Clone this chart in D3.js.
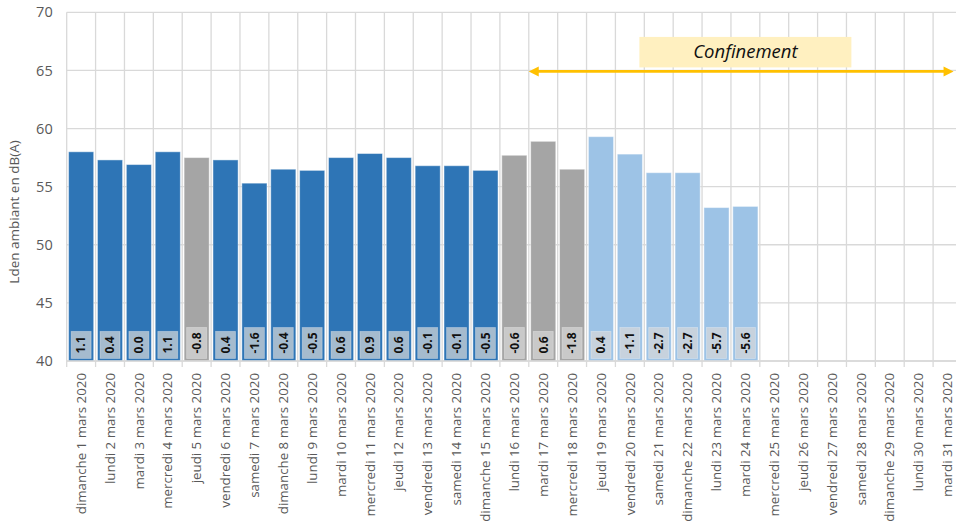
<!DOCTYPE html>
<html>
<head>
<meta charset="utf-8">
<script src="https://cdn.jsdelivr.net/npm/d3@7"></script>
<style>
  body { margin: 0; background: #fff; }
  svg { display: block; font-family: "Open Sans", sans-serif; }
</style>
</head>
<body>
<div id="chart"></div>
<script>
// categories (1 to 31 March 2020)
var days = ["dimanche 1 mars 2020", "lundi 2 mars 2020", "mardi 3 mars 2020", "mercredi 4 mars 2020",
    "jeudi 5 mars 2020", "vendredi 6 mars 2020", "samedi 7 mars 2020", "dimanche 8 mars 2020",
    "lundi 9 mars 2020", "mardi 10 mars 2020", "mercredi 11 mars 2020", "jeudi 12 mars 2020",
    "vendredi 13 mars 2020", "samedi 14 mars 2020", "dimanche 15 mars 2020", "lundi 16 mars 2020",
    "mardi 17 mars 2020", "mercredi 18 mars 2020", "jeudi 19 mars 2020", "vendredi 20 mars 2020",
    "samedi 21 mars 2020", "dimanche 22 mars 2020", "lundi 23 mars 2020", "mardi 24 mars 2020",
    "mercredi 25 mars 2020", "jeudi 26 mars 2020", "vendredi 27 mars 2020", "samedi 28 mars 2020",
    "dimanche 29 mars 2020", "lundi 30 mars 2020", "mardi 31 mars 2020"];

// Lden ambiant, dB(A), one per measured day
var lden = [58.0, 57.3, 56.9, 58.0, 57.5, 57.3, 55.3, 56.5, 56.4, 57.5, 57.85, 57.5,
    56.8, 56.8, 56.4, 57.7, 58.9, 56.5, 59.3, 57.8, 56.2, 56.2, 53.2, 53.3];

// deviation labels shown at the foot of each bar
var ecarts = ["1.1", "0.4", "0.0", "1.1", "-0.8", "0.4", "-1.6", "-0.4", "-0.5", "0.6", "0.9", "0.6",
    "-0.1", "-0.1", "-0.5", "-0.6", "0.6", "-1.8", "0.4", "-1.1", "-2.7", "-2.7", "-5.7", "-5.6"];

// bar group: a = normal, b = grey, c = confinement
var groupes = ["a", "a", "a", "a", "b", "a", "a", "a", "a", "a", "a", "a",
    "a", "a", "a", "b", "b", "b", "c", "c", "c", "c", "c", "c"];

var yTicks = [40, 45, 50, 55, 60, 65, 70];
var confinement = {label: "Confinement", debut: "mardi 17 mars 2020", fin: "mardi 31 mars 2020",
    centre: "mardi 24 mars 2020", niveau: 65};

var colors = {a: "#2E75B6", b: "#A5A5A5", c: "#9DC3E6"};

var W = 956, H = 531;
var margin = {top: 12.3, left: 66.7, bottom: 170};
var width = 31 * 28.88;
var height = 361 - margin.top;

var svg = d3.select("#chart").append("svg")
    .attr("width", W)
    .attr("height", H);

var g = svg.append("g")
    .attr("transform", "translate(" + margin.left + "," + margin.top + ")");

// scales
var x = d3.scaleBand().domain(days).range([0, width]).paddingInner(0.13).paddingOuter(0.065);
var y = d3.scaleLinear().domain([40, 70]).range([height, 0]);
var step = x.step();

// horizontal gridlines
g.append("g")
    .selectAll("line")
    .data(yTicks)
    .join("line")
    .attr("x1", 0)
    .attr("x2", width)
    .attr("y1", function(d) { return y(d); })
    .attr("y2", function(d) { return y(d); })
    .attr("stroke", "#D9D9D9")
    .attr("stroke-width", 1.3);

// vertical gridlines at category boundaries, continued as tick marks
g.append("g")
    .selectAll("line")
    .data(d3.range(days.length + 1))
    .join("line")
    .attr("x1", function(i) { return i * step; })
    .attr("x2", function(i) { return i * step; })
    .attr("y1", 0)
    .attr("y2", height + 6)
    .attr("stroke", "#D9D9D9")
    .attr("stroke-width", 1.3);

// y axis labels
var yAxis = d3.axisLeft(y).tickValues(yTicks).tickSize(0).tickPadding(14);
var ya = g.append("g").call(yAxis);
ya.select(".domain").remove();
ya.selectAll("text")
    .attr("fill", "#595959")
    .style("font-size", "14.5px")
    .style("font-family", "Open Sans");

// y axis title
svg.append("text")
    .attr("transform", "translate(19,212) rotate(-90)")
    .attr("text-anchor", "middle")
    .attr("fill", "#595959")
    .style("font-size", "13.5px")
    .text("Lden ambiant en dB(A)");

// x axis labels
var xAxis = d3.axisBottom(x).tickSize(0).tickPadding(0);
var xa = g.append("g")
    .attr("transform", "translate(0," + height + ")")
    .call(xAxis);
xa.select(".domain").remove();
xa.selectAll("text")
    .attr("transform", "rotate(-90)")
    .attr("text-anchor", "end")
    .attr("x", -12)
    .attr("y", 0)
    .attr("dy", "0.35em")
    .attr("fill", "#595959")
    .style("font-size", "13.3px")
    .style("font-family", "Open Sans");

// bars
var mesures = lden.map(function(v, i) {
    return {day: days[i], value: v, ecart: ecarts[i], groupe: groupes[i]};
});

g.append("g")
    .selectAll("rect")
    .data(mesures)
    .join("rect")
    .attr("x", function(d) { return x(d.day); })
    .attr("width", x.bandwidth())
    .attr("y", function(d) { return y(d.value); })
    .attr("height", function(d) { return y(40) - y(d.value); })
    .attr("fill", function(d) { return colors[d.groupe]; })
    .attr("stroke", "rgba(255,255,255,0.45)")
    .attr("stroke-width", 1);

// x axis base line
g.append("line")
    .attr("x1", 0).attr("x2", width)
    .attr("y1", height).attr("y2", height)
    .attr("stroke", "#D9D9D9")
    .attr("stroke-width", 1.3);

// deviation labels in small boxes
var lab = g.append("g")
    .selectAll("g")
    .data(mesures)
    .join("g")
    .attr("transform", function(d) {
        return "translate(" + (x(d.day) + x.bandwidth() / 2) + "," + (height - 2.5) + ")";
    });

lab.append("rect")
    .attr("fill", "#D9D9D9")
    .attr("fill-opacity", 0.7)
    .attr("stroke", "rgba(255,255,255,0.35)")
    .attr("stroke-width", 0.8);

var txt = lab.append("text")
    .attr("transform", "rotate(-90)")
    .attr("x", 5)
    .attr("y", 0)
    .attr("dy", "0.36em")
    .attr("text-anchor", "start")
    .attr("fill", "#111")
    .style("font-weight", "bold")
    .style("font-size", "12px")
    .text(function(d) { return d.ecart; });

txt.each(function(d) {
    var len = this.getComputedTextLength();
    d3.select(this.parentNode).select("rect")
        .attr("x", -10)
        .attr("width", 20)
        .attr("y", -(len + 10))
        .attr("height", len + 10);
});

// confinement arrow and label
var xa0 = x(confinement.debut) - x.step() * x.paddingInner() / 2;
var xa1 = x(confinement.fin) + x.bandwidth() / 2 + 6;
var ya0 = y(confinement.niveau) + 1;
var gold = "#FFC000";

g.append("line")
    .attr("x1", xa0 + 8).attr("x2", xa1 - 8)
    .attr("y1", ya0).attr("y2", ya0)
    .attr("stroke", gold)
    .attr("stroke-width", 2.6);

g.append("path")
    .attr("d", "M" + xa0 + "," + ya0 + "l10,-5l0,10z")
    .attr("fill", gold);
g.append("path")
    .attr("d", "M" + xa1 + "," + ya0 + "l-10,-5l0,10z")
    .attr("fill", gold);

var cx = x(confinement.centre) + x.bandwidth() / 2;
g.append("rect")
    .attr("x", cx - 106)
    .attr("y", y(confinement.niveau) - 33.5)
    .attr("width", 212)
    .attr("height", 30.5)
    .attr("fill", "#FFF0C0");

g.append("text")
    .attr("x", cx)
    .attr("y", y(confinement.niveau) - 12)
    .attr("text-anchor", "middle")
    .attr("fill", "#111")
    .style("font-style", "italic")
    .style("font-size", "18.5px")
    .text(confinement.label);
</script>
</body>
</html>
